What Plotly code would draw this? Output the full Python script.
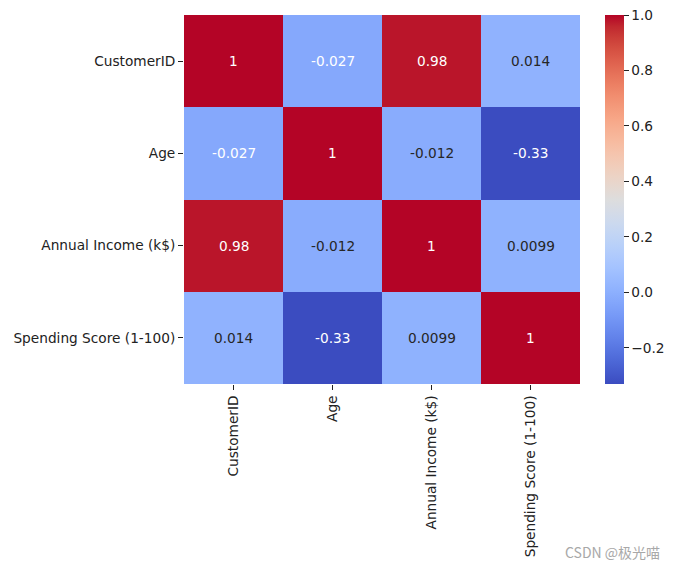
import plotly.graph_objects as go

labels = ["CustomerID", "Age", "Annual Income (k$)", "Spending Score (1-100)"]
corr = [
    [1.0, -0.027, 0.98, 0.014],
    [-0.027, 1.0, -0.012, -0.33],
    [0.98, -0.012, 1.0, 0.0099],
    [0.014, -0.33, 0.0099, 1.0],
]
cbar_ticks = [-0.2, 0.0, 0.2, 0.4, 0.6, 0.8, 1.0]

coolwarm = [
    (0.0, 0.2298057, 0.298717966, 0.753683153),
    (0.03125, 0.26623388, 0.353094838, 0.801466763),
    (0.0625, 0.30386891, 0.406535296, 0.84495867),
    (0.09375, 0.342804478, 0.458757618, 0.883725899),
    (0.125, 0.38301334, 0.50941904, 0.917387822),
    (0.15625, 0.424369608, 0.558148092, 0.945619588),
    (0.1875, 0.46666708, 0.604562568, 0.968154911),
    (0.21875, 0.509635204, 0.648280772, 0.98478814),
    (0.25, 0.552953156, 0.688929332, 0.995375608),
    (0.28125, 0.596262162, 0.726149107, 0.999836203),
    (0.3125, 0.639176211, 0.759599947, 0.998151185),
    (0.34375, 0.681291281, 0.788964712, 0.990363227),
    (0.375, 0.722193294, 0.813952739, 0.976574709),
    (0.40625, 0.761464949, 0.834302879, 0.956945269),
    (0.4375, 0.798691636, 0.849786142, 0.931688648),
    (0.46875, 0.833466556, 0.860207984, 0.901068838),
    (0.5, 0.865395197, 0.86541021, 0.865395561),
    (0.53125, 0.897787179, 0.848937047, 0.820880546),
    (0.5625, 0.924127593, 0.827384882, 0.774508472),
    (0.59375, 0.944468518, 0.800927443, 0.726736146),
    (0.625, 0.958852946, 0.769767752, 0.678007945),
    (0.65625, 0.96732803, 0.734132809, 0.628751763),
    (0.6875, 0.969954137, 0.694266682, 0.579375448),
    (0.71875, 0.966811177, 0.650421156, 0.530263762),
    (0.75, 0.958003065, 0.602842431, 0.481775914),
    (0.78125, 0.943660866, 0.551750968, 0.434243684),
    (0.8125, 0.923944917, 0.49730856, 0.387970225),
    (0.84375, 0.89904617, 0.439559467, 0.343229596),
    (0.875, 0.869186849, 0.378313092, 0.300267182),
    (0.90625, 0.834620542, 0.312874446, 0.259301199),
    (0.9375, 0.795631745, 0.24128379, 0.220525627),
    (0.96875, 0.752534934, 0.157246067, 0.184115123),
    (1.0, 0.705673158, 0.01555616, 0.150232812),
]
colorscale = [[p, f"rgb({round(r*255)},{round(g*255)},{round(b*255)})"] for p, r, g, b in coolwarm]

zmin = min(min(r) for r in corr)
zmax = max(max(r) for r in corr)

FONT = "DejaVu Sans"
FS = 13.7

fig = go.Figure(go.Heatmap(
    z=corr, x=labels, y=labels,
    zmin=zmin, zmax=zmax,
    colorscale=colorscale,
    xgap=0, ygap=0,
    hoverinfo="skip",
    colorbar=dict(
        x=(605 - 184) / 396, xanchor="left", xref="paper",
        y=0.5, yanchor="middle", len=1, lenmode="fraction",
        thickness=19, thicknessmode="pixels",
        outlinewidth=0, xpad=0, ypad=0,
        tickvals=cbar_ticks,
        ticktext=[f"{v:.1f}".replace("-", "\u2212") for v in cbar_ticks],
        ticks="outside", ticklen=5, tickwidth=1, tickcolor="#222",
        tickfont=dict(family=FONT, size=FS, color="#222"),
    ),
))

annotations = []
for i, row in enumerate(corr):
    for j, v in enumerate(row):
        col = "white" if (v < -0.02 or v > 0.5) else "#262626"
        annotations.append(dict(
            x=labels[j], y=labels[i], text=f"{v:.2g}", showarrow=False,
            font=dict(family=FONT, size=FS, color=col),
        ))
annotations.append(dict(
    xref="paper", yref="paper", x=(662 - 184) / 396, y=-(552 - 384) / 369,
    xanchor="right", yanchor="middle", text="CSDN @极光喵", showarrow=False,
    font=dict(family="Noto Sans CJK SC", size=14, color="#a8a8a8"),
))

fig.update_layout(
    width=677, height=568,
    margin=dict(l=184, r=97, t=15, b=184, pad=0, autoexpand=False),
    paper_bgcolor="white", plot_bgcolor="white",
    annotations=annotations,
    xaxis=dict(
        tickangle=-90, ticks="outside", ticklen=5, tickwidth=1, tickcolor="#222",
        tickfont=dict(family=FONT, size=FS, color="#222"), automargin=False,
        showgrid=False, zeroline=False, showline=False,
    ),
    yaxis=dict(
        autorange="reversed", ticks="outside", ticklen=5, tickwidth=1, tickcolor="#222",
        tickfont=dict(family=FONT, size=FS, color="#222"), automargin=False,
        showgrid=False, zeroline=False, showline=False,
    ),
    showlegend=False,
)

fig.write_html(
    "out.html",
    config={"displayModeBar": False},
    post_script="document.body.style.margin='0px';document.body.style.overflow='hidden';",
)
